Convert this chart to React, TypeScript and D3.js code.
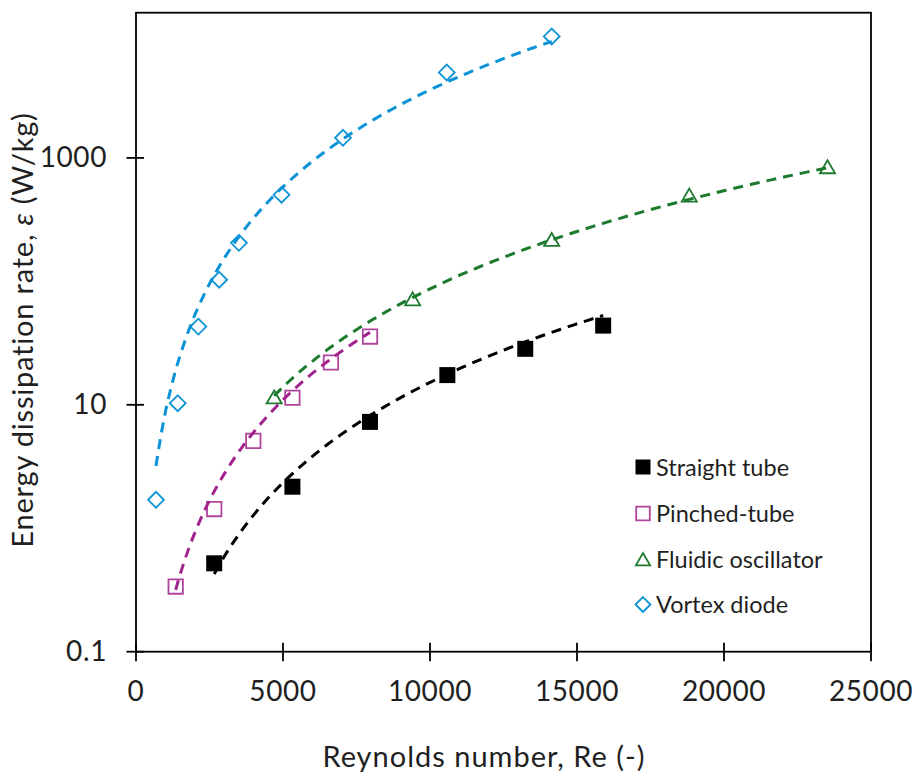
import React from "react";
import * as d3 from "d3";

// data
const straightRe = [2660, 5320, 7960, 10590, 13240, 15890];
const straightEps = [0.52, 2.17, 7.27, 17.4, 28.4, 43.8];
const pinchedRe = [1350, 2660, 3990, 5320, 6630, 7960];
const pinchedEps = [0.337, 1.43, 5.1, 11.4, 22.0, 35.7];
const fluidicRe = [4700, 9410, 14140, 18820, 23520];
const fluidicEps = [11.5, 71.7, 217, 496, 842];
const vortexRe = [680, 1420, 2120, 2830, 3500, 4950, 7040, 10570, 14140];
const vortexEps = [1.7, 10.3, 43.0, 103, 205, 502, 1455, 4920, 9630];

// power-law trendlines eps = 10^logA * Re^b (estimated from the dashed curves)
const trendLogA = [-9.607, -8.973, -8.621, -6.885];
const trendB = [2.697, 2.707, 2.64, 2.609];

const seriesNames = ["Straight tube", "Pinched-tube", "Fluidic oscillator", "Vortex diode"];
const xTicks = [0, 5000, 10000, 15000, 20000, 25000];
const yTicks = [0.1, 10, 1000];

const width = 912;
const height = 778;
const margin = { top: 12.7, right: 41, bottom: 126.3, left: 136 };
const font = "Lato, 'Open Sans', sans-serif";
const textColor = "#1f1f1f";

const colors = ["#000000", "#b0449c", "#1e7a30", "#0a93d6"];
const lineColors = ["#000000", "#a2238d", "#1b7a2c", "#0a93d6"];

const markerPath = (kind: number, s: number) => {
  if (kind === 0 || kind === 1) return `M${-s},${-s}H${s}V${s}H${-s}Z`;
  if (kind === 2) return `M0,${-s * 0.95}L${s * 1.05},${s * 0.85}H${-s * 1.05}Z`;
  return `M0,${-s * 1.1}L${s * 1.1},0L0,${s * 1.1}L${-s * 1.1},0Z`;
};

const Marker = ({ kind, x, y, s }: { kind: number; x: number; y: number; s: number }) => (
  <path
    d={markerPath(kind, s)}
    transform={`translate(${x},${y})`}
    fill={kind === 0 ? "#000" : "none"}
    stroke={colors[kind]}
    strokeWidth={kind === 0 ? 0 : 1.8}
  />
);

export default function App() {
  const x = d3.scaleLinear().domain([0, 25000]).range([margin.left, width - margin.right]);
  const y = d3.scaleLog().domain([0.1, 15000]).range([height - margin.bottom, margin.top]);

  const series = [
    { re: straightRe, eps: straightEps },
    { re: pinchedRe, eps: pinchedEps },
    { re: fluidicRe, eps: fluidicEps },
    { re: vortexRe, eps: vortexEps },
  ];

  const line = d3
    .line<[number, number]>()
    .x((d) => x(d[0]))
    .y((d) => y(d[1]));

  const trends = series.map((s, i) => {
    const lo = d3.min(s.re) as number;
    const hi = d3.max(s.re) as number;
    const pts: [number, number][] = d3
      .range(0, 81)
      .map((k) => lo + ((hi - lo) * k) / 80)
      .map((re) => [re, Math.pow(10, trendLogA[i]) * Math.pow(re, trendB[i])]);
    return line(pts) as string;
  });

  const x0 = margin.left;
  const x1 = width - margin.right;
  const y0 = height - margin.bottom;
  const y1 = margin.top;

  const legendY = [467, 513.5, 559.5, 604.5];

  return (
    <svg
      width={width}
      height={height}
      style={{ position: "absolute", left: 0, top: 0, background: "#fff" }}
      fontFamily={font}
    >
      <rect x={0} y={0} width={width} height={height} fill="#fff" />

      {/* markers */}
      {series.map((s, i) => (
        <g key={"m" + i}>
          {s.re.map((re, j) => (
            <Marker key={j} kind={i} x={x(re)} y={y(s.eps[j])} s={i === 0 ? 8 : 7.2} />
          ))}
        </g>
      ))}

      {/* trendlines */}
      {trends.map((d, i) => (
        <path key={"t" + i} d={d} fill="none" stroke={lineColors[i]} strokeWidth={3} strokeDasharray="10 7" />
      ))}

      {/* frame */}
      <rect x={x0} y={y1} width={x1 - x0} height={y0 - y1} fill="none" stroke="#000" strokeWidth={1.8} />

      {/* x axis ticks */}
      {xTicks.map((t) => (
        <g key={"x" + t}>
          <line x1={x(t)} x2={x(t)} y1={y0 - 9} y2={y0 + 9.5} stroke="#000" strokeWidth={1.8} />
          <text x={x(t)} y={701} textAnchor="middle" fontSize={28} letterSpacing={0.6} fill={textColor}>
            {t}
          </text>
        </g>
      ))}

      {/* y axis ticks */}
      {yTicks.map((t) => (
        <g key={"y" + t}>
          <line x1={x0 - 9.5} x2={x0 + 8} y1={y(t)} y2={y(t)} stroke="#000" strokeWidth={1.8} />
          <text x={107} y={y(t) + 9.5} textAnchor="end" fontSize={28} letterSpacing={0.6} fill={textColor}>
            {t}
          </text>
        </g>
      ))}

      {/* axis titles */}
      <text x={484} y={767} textAnchor="middle" fontSize={29} letterSpacing={1} fill={textColor}>
        Reynolds number, Re (-)
      </text>
      <text
        transform="rotate(-90)"
        x={-330}
        y={33}
        textAnchor="middle"
        fontSize={29}
        letterSpacing={0.8}
        fill={textColor}
      >
        Energy dissipation rate, <tspan fontStyle="italic">ε</tspan> (W/kg)
      </text>

      {/* legend */}
      {seriesNames.map((name, i) => (
        <g key={"l" + i}>
          <Marker kind={i} x={643} y={legendY[i]} s={i === 0 ? 7.5 : 6.8} />
          <text x={656} y={legendY[i] + 8.5} fontSize={23.5} fill={textColor}>
            {name}
          </text>
        </g>
      ))}
    </svg>
  );
}
